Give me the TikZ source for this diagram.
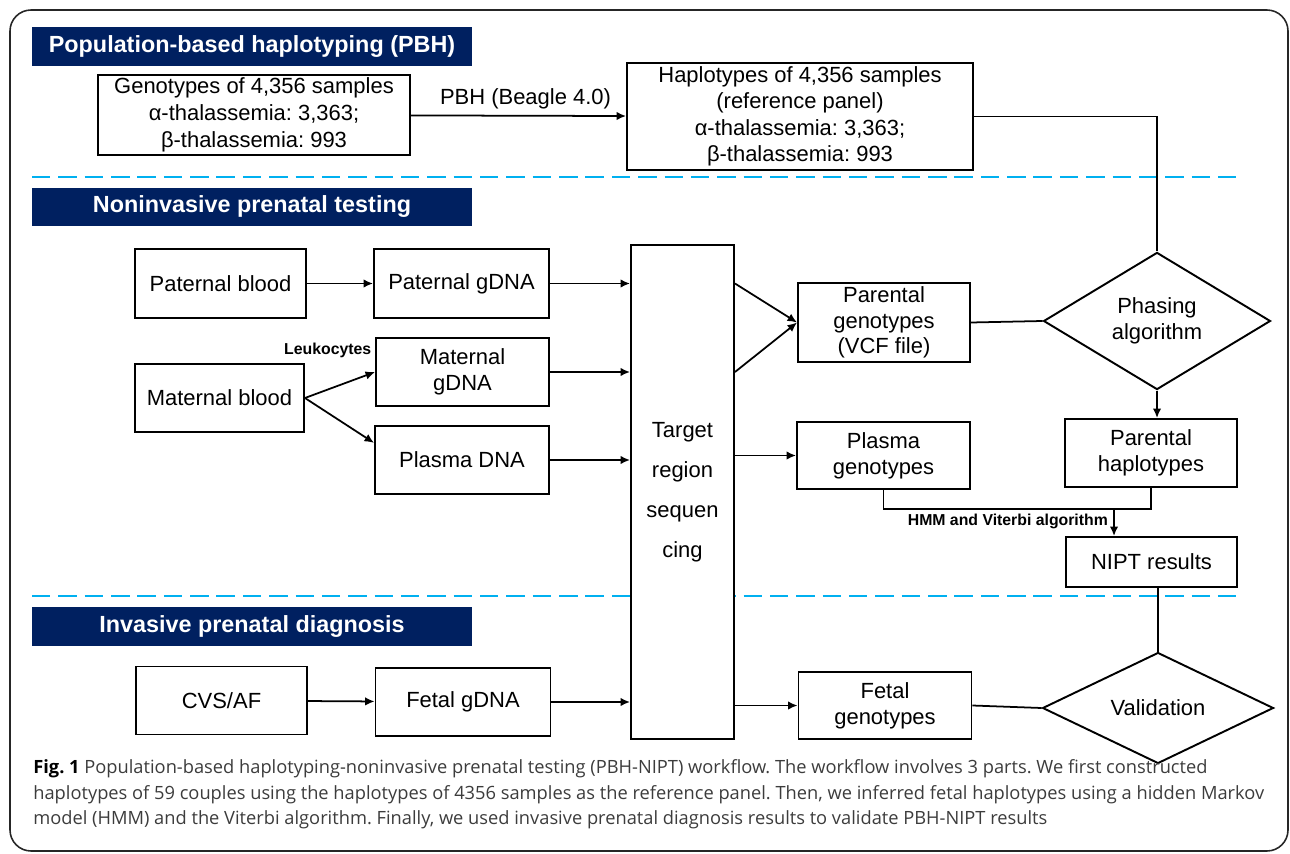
\documentclass[tikz,border=0pt]{standalone}
\usepackage{fontspec}
\setmainfont{Liberation Sans}
\newfontfamily\capfont{Open Sans}
\usetikzlibrary{shapes.geometric, arrows.meta, positioning, calc}
\definecolor{hdrblue}{HTML}{002060}
\definecolor{sepblue}{HTML}{00B0F0}
\definecolor{capgray}{HTML}{3C3C3C}
\frenchspacing

\begin{document}
\begin{tikzpicture}[
    x=0.02cm, y=-0.02cm,
    box/.style={rectangle, draw, line width=1.1pt, fill=white, inner sep=0pt, align=center, font=\fontsize{12.5}{15}\selectfont},
    dbox/.style={box, diamond},
    hdr/.style={rectangle, fill=hdrblue, text=white, minimum width=8.8cm, minimum height=0.78cm, inner sep=0pt, font=\bfseries\fontsize{13.3}{16}\selectfont},
    sarrow/.style={-{Latex[length=1.9mm,width=1.7mm]}, line width=1pt},
    sline/.style={line width=1pt},
    sepline/.style={sepblue, line width=1.6pt, dash pattern=on 10.5pt off 4.5pt},
    lbl/.style={font=\bfseries\fontsize{9}{11}\selectfont, inner sep=1pt}
]
\useasboundingbox (0,0) rectangle (1290,854);
\draw[line width=0.9pt, black!85, rounded corners=12pt] (10,10) rectangle (1288,851);

% section headers and separators
\node[hdr] (hpbh) at (252,46.5) {Population-based haplotyping (PBH)};
\node[hdr] (hnipt) at (252,207) {Noninvasive prenatal testing};
\node[hdr] (hipd) at (252,626.5) {Invasive prenatal diagnosis};
\draw[sepline] (32,177) -- (1240,177);
\draw[sepline] (32,596) -- (1240,596);

% PBH part
\node[box, minimum width=6.24cm, minimum height=1.6cm, font=\fontsize{12.5}{15.5}\selectfont] (geno) at (254,115) {Genotypes of 4,356 samples\\α-thalassemia: 3,363;\\β-thalassemia: 993};
\node[box, minimum width=6.92cm, minimum height=2.14cm] (haplo) at (800,116.5) {Haplotypes of 4,356 samples\\(reference panel)\\α-thalassemia: 3,363;\\β-thalassemia: 993};
\draw[sarrow] (geno) -- node[above=0pt, xshift=4pt, font=\fontsize{12.5}{15}\selectfont] {PBH (Beagle 4.0)} (haplo);

% NIPT part
\node[box, minimum width=3.42cm, minimum height=1.38cm] (patblood) at (220.5,283.5) {Paternal blood};
\node[box, minimum width=3.5cm, minimum height=1.38cm] (patdna) at (461.5,283.5) {Paternal gDNA};
\node[box, minimum width=3.46cm, minimum height=1.36cm] (matdna) at (462.5,372) {Maternal\\gDNA};
\node[box, minimum width=3.38cm, minimum height=1.36cm] (matblood) at (219.5,398) {Maternal blood};
\node[box, minimum width=3.48cm, minimum height=1.36cm] (plasdna) at (462,460) {Plasma DNA};
\node[box, minimum width=2.06cm, minimum height=9.88cm, font=\fontsize{12.5}{22.7}\selectfont] (target) at (682.5,492) {Target\\region\\sequen\\cing};
\node[box, minimum width=3.44cm, minimum height=1.58cm, font=\fontsize{12.5}{14.5}\selectfont] (pargeno) at (884,322.5) {Parental\\genotypes\\(VCF file)};
\node[dbox, minimum width=4.54cm, minimum height=1.84cm] (phasing) at (1157,321) {Phasing\\algorithm};
\node[box, minimum width=3.44cm, minimum height=1.36cm] (parhap) at (1151,453) {Parental\\haplotypes};
\node[box, minimum width=3.46cm, minimum height=1.34cm] (plasgeno) at (883.5,455.5) {Plasma\\genotypes};
\node[box, minimum width=3.42cm, minimum height=1.0cm] (nipt) at (1151.5,562) {NIPT results};
\coordinate (hmm) at (1114,509);

% invasive part
\node[box, minimum width=3.42cm, minimum height=1.36cm] (cvs) at (221.5,700.5) {CVS/AF};
\node[box, minimum width=3.5cm, minimum height=1.36cm] (fetdna) at (463,702) {Fetal gDNA};
\node[box, minimum width=3.46cm, minimum height=1.34cm] (fetgeno) at (885,705.5) {Fetal\\genotypes};
\node[dbox, minimum width=4.62cm, minimum height=1.8cm] (valid) at (1158,708) {Validation};

% connectors
\draw[sline] (haplo.east) -| (phasing.north);
\draw[sarrow] (patblood) -- (patdna);
\draw[sarrow] (matblood.east) -- (matdna.west);
\draw[sarrow] (matblood.east) -- (plasdna.169);
\node[lbl, anchor=east] (leuko) at ([xshift=-1pt, yshift=-7.5pt]matdna.north west) {Leukocytes};
\draw[sarrow] (patdna.east) -- (patdna.east -| target.west);
\draw[sarrow] (matdna.east) -- (matdna.east -| target.west);
\draw[sarrow] (plasdna.east) -- (plasdna.east -| target.west);
\draw[sarrow] (target.east |- patdna.east) -- (pargeno.west);
\draw[sarrow] (target.east |- matdna.east) -- (pargeno.west);
\draw[sarrow] (target.east |- plasgeno.west) -- (plasgeno.west);
\draw[sline] (pargeno.east) -- (phasing.west);
\draw[sarrow] (phasing.south) -- (phasing.south |- parhap.north);
\draw[sline] (plasgeno.south) |- (hmm) -| (parhap.south);
\draw[sarrow] (hmm) -- node[lbl, left=2pt, pos=0.45] {HMM and Viterbi algorithm} (hmm |- nipt.north);
\draw[sline] (valid.north |- nipt.south) -- (valid.north);
\draw[sarrow] (cvs) -- (fetdna);
\draw[sarrow] (fetdna.east) -- (fetdna.east -| target.west);
\draw[sarrow] (target.east |- fetgeno.west) -- (fetgeno.west);
\draw[sline] (fetgeno.east) -- (valid.west);

% caption
\node[anchor=north west, inner sep=0pt, align=left, text=capgray, font=\capfont\fontsize{10.4}{14.7}\selectfont] (cap) at (33,759) {{\bfseries\color{black}Fig. 1} Population-based haplotyping-noninvasive prenatal testing (PBH-NIPT) workflow. The workflow involves 3 parts. We first constructed\\haplotypes of 59 couples using the haplotypes of 4356 samples as the reference panel. Then, we inferred fetal haplotypes using a hidden Markov\\model (HMM) and the Viterbi algorithm. Finally, we used invasive prenatal diagnosis results to validate PBH-NIPT results};
\end{tikzpicture}
\end{document}
